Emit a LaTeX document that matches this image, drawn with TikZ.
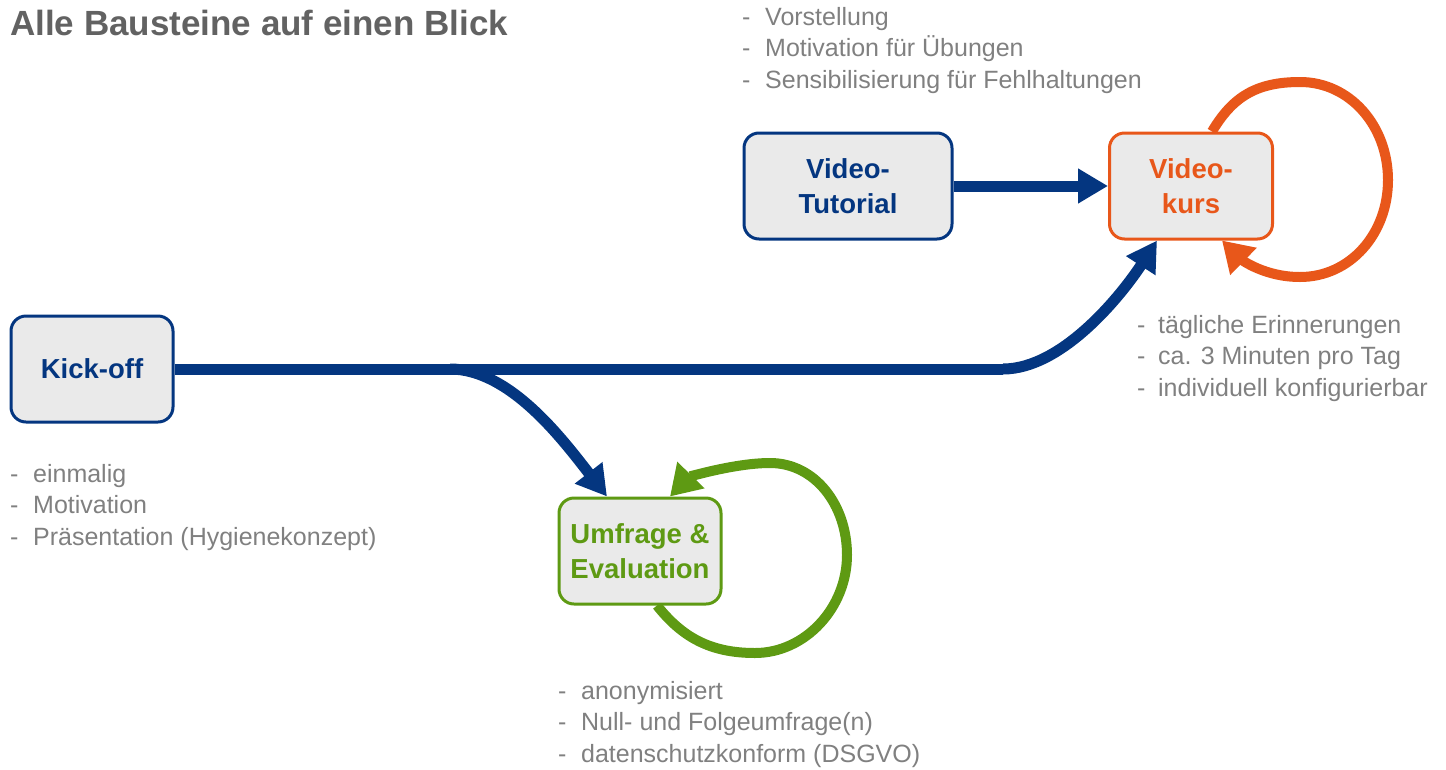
\documentclass[tikz,border=0pt]{standalone}
\usepackage{fontspec}
\setmainfont{Liberation Sans}
\usetikzlibrary{arrows.meta,calc,backgrounds}
\definecolor{dblue}{RGB}{4,54,128}
\definecolor{orng}{RGB}{232,87,26}
\definecolor{grn}{RGB}{94,154,19}
\definecolor{boxfill}{RGB}{234,234,234}
\definecolor{txtgrey}{RGB}{128,128,128}
\definecolor{titlegrey}{RGB}{98,98,98}
\newcommand{\dl}[1]{\makebox[#1][l]{-}}
\begin{document}
\begin{tikzpicture}[x=1pt,y=-1pt,
  box/.style={draw, line width=3pt, rounded corners=15pt, fill=boxfill,
    minimum height=106pt, align=center, inner sep=0pt,
    font=\fontsize{27.5}{35}\selectfont\bfseries},
  bullets/.style={anchor=base west, align=left, inner sep=0pt, text=txtgrey,
    font=\fontsize{25}{31.5}\selectfont},
  conn/.style={line width=11pt, draw=dblue},
  loopline/.style={line width=10pt},
  tipblue/.style={-{Triangle[length=30pt,width=33pt]}},
  tiploop/.style={-{Triangle[length=30pt,width=36pt]}}
]
\useasboundingbox (0,0) rectangle (1446,769);

% title
\node[anchor=base west, inner sep=0pt, text=titlegrey,
  font=\fontsize{35}{40}\selectfont\bfseries] (title) at (10,35) {Alle Bausteine auf einen Blick};

% boxes
\node[box, draw=dblue, text=dblue, minimum width=162pt] (kick) at (92,369) {Kick-off};
\node[box, draw=dblue, text=dblue, minimum width=208pt] (tut) at (848,186) {Video-\\Tutorial};
\node[box, draw=orng, text=orng, minimum width=163pt] (kurs) at (1191,186) {Video-\\kurs};
\node[box, draw=grn, text=grn, minimum width=162pt] (umf) at (640,551) {Umfrage \&\\Evaluation};

% bullet lists (anchor = baseline of last line)
\node[bullets] (lTut) at (742,88) {\dl{23pt}Vorstellung\\\dl{23pt}Motivation für Übungen\\\dl{23pt}Sensibilisierung für Fehlhaltungen};
\node[bullets] (lKurs) at (1137,396) {\dl{21pt}tägliche Erinnerungen\\\dl{21pt}ca. 3 Minuten pro Tag\\\dl{21pt}individuell konfigurierbar};
\node[bullets] (lKick) at (10,545) {\dl{23pt}einmalig\\\dl{23pt}Motivation\\\dl{23pt}Präsentation (Hygienekonzept)};
\node[bullets] (lUmf) at (558,762) {\dl{23pt}anonymisiert\\\dl{23pt}Null- und Folgeumfrage(n)\\\dl{23pt}datenschutzkonform (DSGVO)};

\coordinate (split) at (450,369);
\coordinate (bend) at (1003,369);

\begin{pgfonlayer}{background}
% main line
\draw[conn] (kick.east) -- (split) -- (bend);
\draw[conn, tipblue] (bend) .. controls (1063,369) and (1123,293) .. ($(kurs.south)+(-34,0)$);
\draw[conn, tipblue] (split) .. controls (510,369) and (563,440) .. ($(umf.north)+(-33,0)$);
\draw[conn, tipblue] (tut.east) -- (kurs.west);

% orange loop
\draw[loopline, draw=orng, tiploop] ($(kurs.north)+(21,0)$)
  .. controls (1232,98) and (1255,82) .. (1300,82)
  .. controls (1350,82) and (1388,126) .. (1388,180)
  .. controls (1388,234) and (1350,277) .. (1300,277)
  .. controls (1265,277) and (1242,260) .. ($(kurs.south)+(31,0)$);

% green loop
\draw[loopline, draw=grn, tiploop] ($(umf.south)+(17,0)$)
  .. controls (682,637) and (710,653) .. (755,653)
  .. controls (805,653) and (847,608) .. (847,555)
  .. controls (847,505) and (815,463) .. (770,463)
  .. controls (735,463) and (689,477) .. ($(umf.north)+(30,0)$);
\end{pgfonlayer}
\end{tikzpicture}
\end{document}
